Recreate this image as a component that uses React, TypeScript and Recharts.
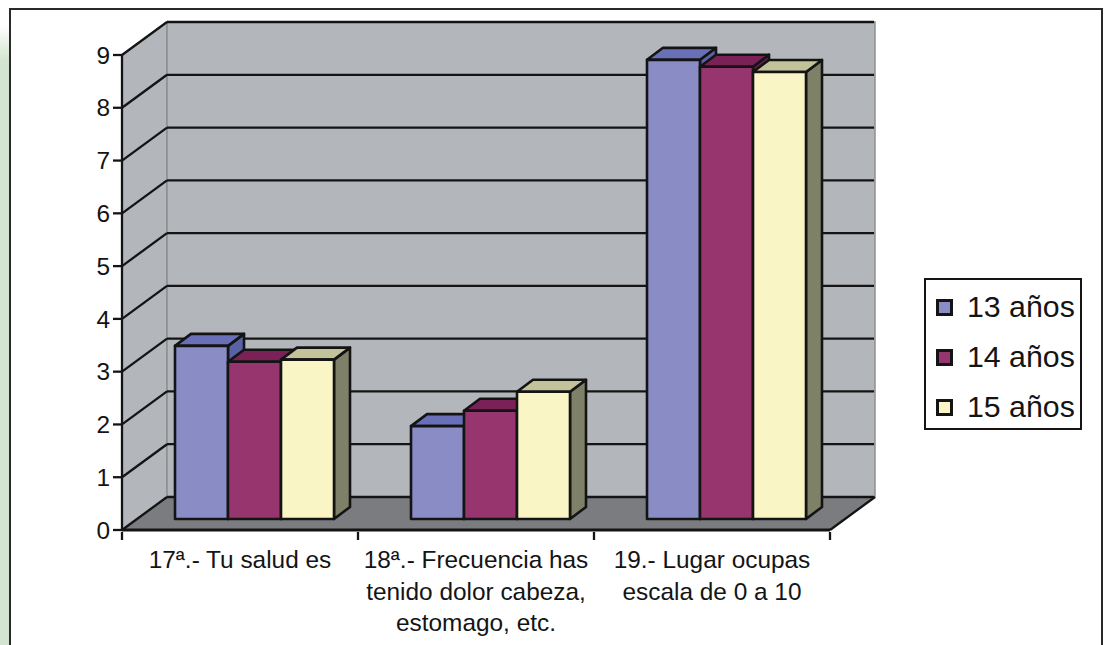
import React from 'react';
import { BarChart, Bar, XAxis, YAxis, CartesianGrid, Legend } from 'recharts';

const CATEGORIES = [
  ['17ª.- Tu salud es'],
  ['18ª.- Frecuencia has', 'tenido dolor cabeza,', 'estomago, etc.'],
  ['19.- Lugar ocupas', 'escala de 0 a 10'],
];
const AGE_13 = [3.28, 1.76, 8.7];
const AGE_14 = [2.98, 2.05, 8.57];
const AGE_15 = [3.02, 2.41, 8.47];
const Y_TICKS = [0, 1, 2, 3, 4, 5, 6, 7, 8, 9];
const SERIES = [
  { key: 'age13', name: '13 años', front: '#8a8cc6', top: '#6a70b8', side: '#5a62a6' },
  { key: 'age14', name: '14 años', front: '#96356e', top: '#7a2258', side: '#6e1f50' },
  { key: 'age15', name: '15 años', front: '#f9f5c4', top: '#c3c39a', side: '#7e8068' },
];

const chartData = CATEGORIES.map((lines, i) => ({
  name: lines.join(' '),
  age13: AGE_13[i],
  age14: AGE_14[i],
  age15: AGE_15[i],
}));

const FONT = '"Liberation Sans", Arial, sans-serif';
const INK = '#141414';

// fake 3D: room depth, and how far bars sit from the front edge
const ROOM_DX = 45;
const ROOM_DY = 33;
const BAR_SHIFT_X = 14;
const BAR_SHIFT_Y = 11;
const BAR_DX = 16;
const BAR_DY = 12;
const PLOT_LEFT = 122;
const PLOT_RIGHT = 830;
const PLOT_TOP = 55;
const PLOT_BOTTOM = 530;
const Y_AXIS_WIDTH = 60;
const LEGEND_WIDTH = 158;
const LEGEND_HEIGHT = 152;

function Bar3D(props: any) {
  const { x, y, width, height, front, top, side } = props;
  const l = x + BAR_SHIFT_X;
  const r = l + width;
  const t = y - BAR_SHIFT_Y;
  const b = t + height;
  const stroke = { stroke: INK, strokeWidth: 2.6, strokeLinejoin: 'round' as const };
  return (
    <g>
      <polygon
        points={`${r},${t} ${r + BAR_DX},${t - BAR_DY} ${r + BAR_DX},${b - BAR_DY} ${r},${b}`}
        fill={side}
        {...stroke}
      />
      <polygon
        points={`${l},${t} ${l + BAR_DX},${t - BAR_DY} ${r + BAR_DX},${t - BAR_DY} ${r},${t}`}
        fill={top}
        {...stroke}
      />
      <rect x={l} y={t} width={width} height={height} fill={front} {...stroke} />
    </g>
  );
}

// walls and floor are painted with the first grid line so the rulings land on top
function gridLine(props: any) {
  const { x1, x2, y1, index, x, y, width, height } = props;
  const bx = x1 + ROOM_DX;
  const by = y1 - ROOM_DY;
  const wallLine = { stroke: '#8f8f8f', strokeWidth: 1.5 };
  return (
    <g key={index}>
      {index === 0 && (
        <g>
          <polygon
            points={`${x},${y} ${x + ROOM_DX},${y - ROOM_DY} ${x + ROOM_DX},${y + height - ROOM_DY} ${x},${y + height}`}
            fill="#b3b6ba"
            {...wallLine}
          />
          <rect x={x + ROOM_DX} y={y - ROOM_DY} width={width} height={height} fill="#b3b6ba" {...wallLine} />
          <polygon
            points={`${x},${y + height} ${x + ROOM_DX},${y + height - ROOM_DY} ${x + width + ROOM_DX},${y + height - ROOM_DY} ${x + width},${y + height}`}
            fill="#7b7c80"
          />
          <line
            x1={x + width}
            y1={y + height}
            x2={x + width + ROOM_DX}
            y2={y + height - ROOM_DY}
            stroke={INK}
            strokeWidth={2.3}
          />
        </g>
      )}
      <line x1={x1} y1={y1} x2={bx} y2={by} stroke={INK} strokeWidth={2.3} />
      <line x1={bx} y1={by} x2={x2 + ROOM_DX - 1} y2={by} stroke={INK} strokeWidth={2.3} />
    </g>
  );
}

// category labels wrap by hand; tick marks sit on the band edges, not the band centres
function CategoryTick({ x, y, payload, width }: any) {
  const band = width / CATEGORIES.length;
  const lines = CATEGORIES[payload.index] ?? [String(payload.value)];
  const mark = (mx: number) => (
    <line x1={mx} y1={y - 8} x2={mx} y2={y} stroke={INK} strokeWidth={2.3} />
  );
  return (
    <g>
      {payload.index === 0 && mark(x - band / 2)}
      {mark(x + band / 2)}
      <text x={x} textAnchor="middle" fontFamily={FONT} fontSize={24.4} fill={INK}>
        {lines.map((line, i) => (
          <tspan key={i} x={x} y={y + 28 + i * 31.5}>
            {line}
          </tspan>
        ))}
      </text>
    </g>
  );
}

function LegendBox() {
  return (
    <div
      style={{
        width: LEGEND_WIDTH,
        height: LEGEND_HEIGHT,
        boxSizing: 'border-box',
        border: `2.5px solid ${INK}`,
        background: '#fff',
        fontFamily: FONT,
        fontSize: 30.3,
        color: INK,
        paddingTop: 2,
      }}
    >
      {SERIES.map((s) => (
        <div key={s.key} style={{ display: 'flex', alignItems: 'center', height: 50, paddingLeft: 10 }}>
          <span
            style={{
              width: 17,
              height: 17,
              boxSizing: 'border-box',
              border: `3px solid ${INK}`,
              background: s.front,
              marginRight: 14,
            }}
          />
          {s.name}
        </div>
      ))}
    </div>
  );
}

export default function App() {
  return (
    <div style={{ position: 'absolute', left: 0, top: 0, width: 1108, height: 645, background: '#fff', overflow: 'hidden' }}>
      <div style={{ position: 'absolute', left: 0, top: 0, width: 9, height: 645, background: 'linear-gradient(#fff 0px, #fff 25px, #d3e5d0 60px, #d3e5d0 100%)' }} />
      <div
        style={{
          position: 'absolute',
          left: 9,
          top: 8,
          width: 1094,
          height: 660,
          boxSizing: 'border-box',
          border: '2.5px solid #2a2a2a',
          background: '#fff',
        }}
      />
      <div style={{ position: 'absolute', left: 0, top: 0 }}>
        <BarChart
          width={1108}
          height={645}
          data={chartData}
          margin={{
            top: PLOT_TOP,
            right: 1108 - PLOT_RIGHT - LEGEND_WIDTH,
            bottom: 0,
            left: PLOT_LEFT - Y_AXIS_WIDTH,
          }}
          barCategoryGap={39}
          barGap={0}
        >
          <CartesianGrid horizontal={gridLine as any} vertical={false} syncWithTicks />
          <XAxis
            dataKey="name"
            axisLine={{ stroke: INK, strokeWidth: 2.8 }}
            tickLine={false}
            tickSize={8}
            interval={0}
            tick={CategoryTick as any}
            height={645 - PLOT_BOTTOM}
          />
          <YAxis
            width={Y_AXIS_WIDTH}
            domain={[0, 9]}
            ticks={Y_TICKS}
            interval={0}
            axisLine={{ stroke: INK, strokeWidth: 2.3 }}
            tickLine={{ stroke: INK, strokeWidth: 2.3 }}
            tickSize={9}
            tickMargin={3}
            tick={{ fontFamily: FONT, fontSize: 24.4, fill: INK }}
          />
          {SERIES.map((s) => (
            <Bar
              key={s.key}
              dataKey={s.key}
              name={s.name}
              isAnimationActive={false}
              shape={(p: any) => <Bar3D {...p} front={s.front} top={s.top} side={s.side} />}
            />
          ))}
          <Legend
            layout="vertical"
            align="right"
            verticalAlign="middle"
            content={<LegendBox />}
            wrapperStyle={{ position: 'absolute', left: 924, top: 278, width: LEGEND_WIDTH, height: LEGEND_HEIGHT, bottom: 'auto', right: 'auto' }}
          />
        </BarChart>
      </div>
    </div>
  );
}
